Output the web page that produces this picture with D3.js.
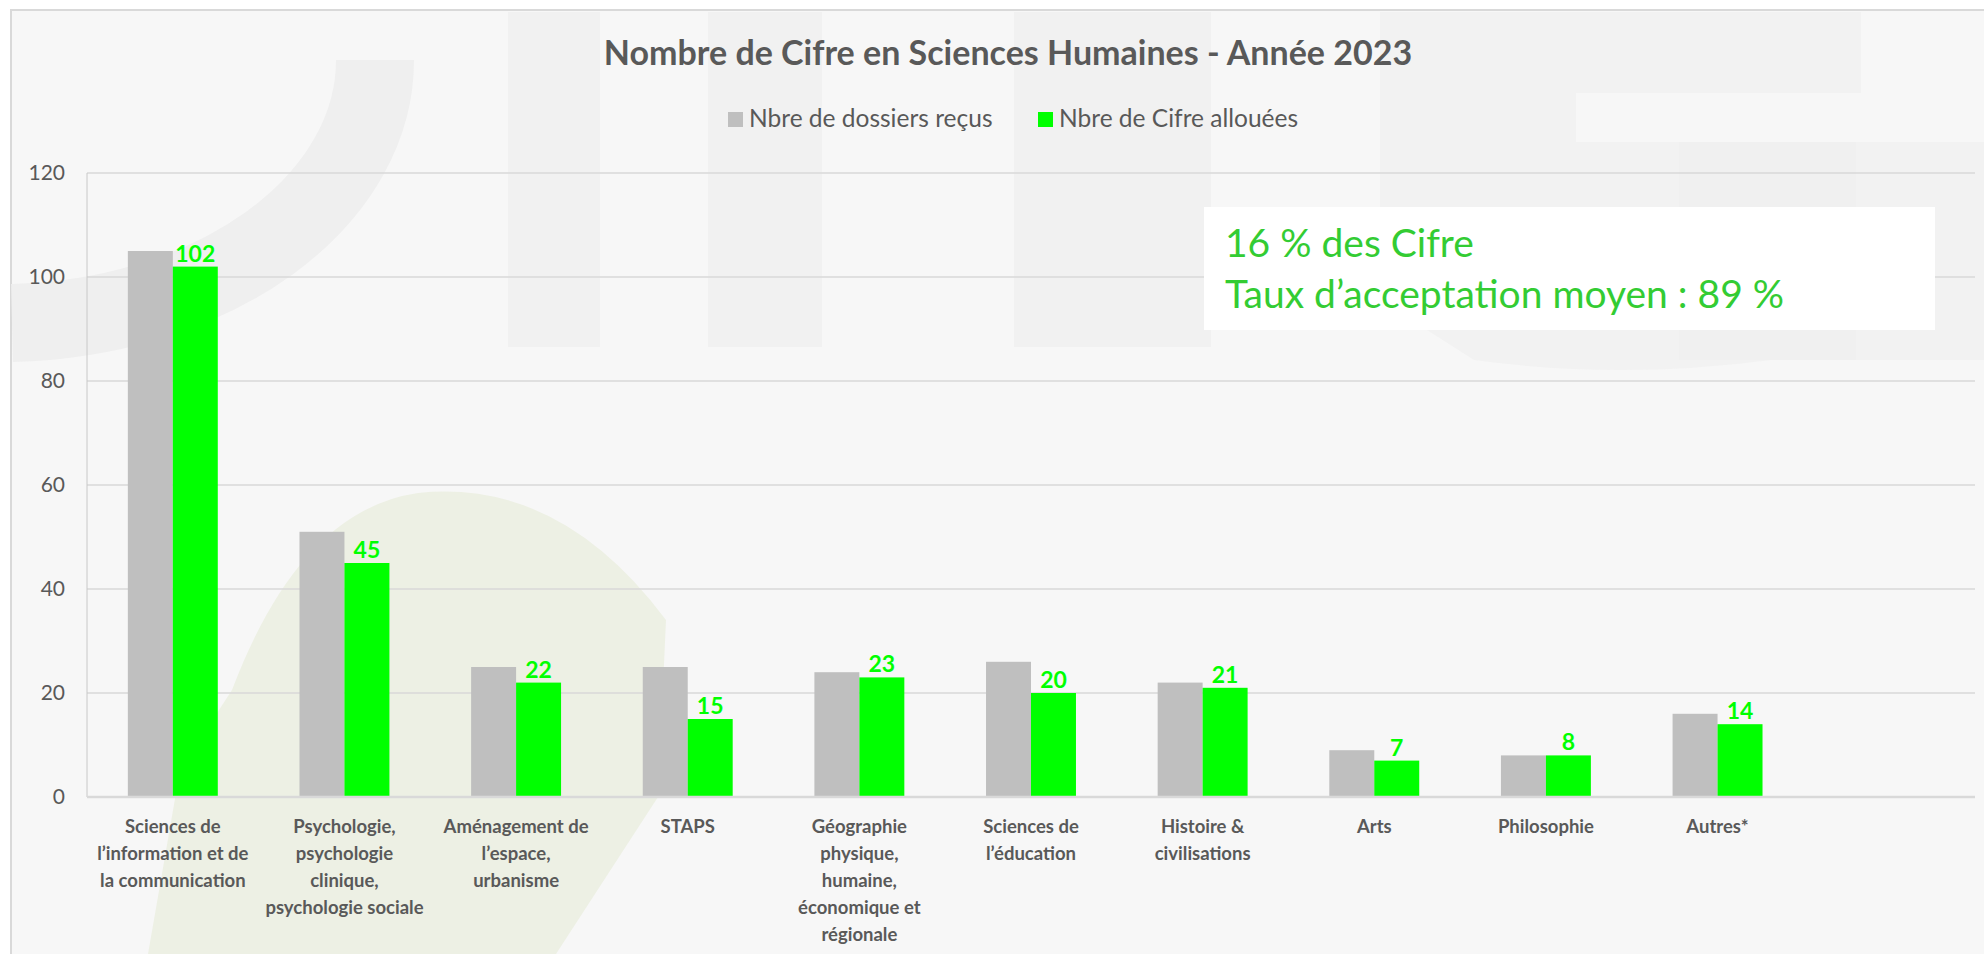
<!DOCTYPE html>
<html>
<head>
<meta charset="utf-8">
<script src="https://cdnjs.cloudflare.com/ajax/libs/d3/7.8.5/d3.min.js"></script>
<style>
html, body { margin: 0; padding: 0; background: #fff; }
#vis { width: 1984px; height: 954px; }
</style>
</head>
<body>
<div id="vis"></div>
<script>
var categories = [
    "Sciences de\nl’information et de\nla communication",
    "Psychologie,\npsychologie\nclinique,\npsychologie sociale",
    "Aménagement de\nl’espace,\nurbanisme",
    "STAPS",
    "Géographie\nphysique,\nhumaine,\néconomique et\nrégionale",
    "Sciences de\nl’éducation",
    "Histoire &\ncivilisations",
    "Arts",
    "Philosophie",
    "Autres*"
];
var dossiersRecus = [105, 51, 25, 25, 24, 26, 22, 9, 8, 16];
var cifreAllouees = [102, 45, 22, 15, 23, 20, 21, 7, 8, 14];
var yTicks = [0, 20, 40, 60, 80, 100, 120];
var seriesNames = ["Nbre de dossiers reçus", "Nbre de Cifre allouées"];
var seriesColors = ["#bfbfbf", "#00ff00"];
var chartTitle = "Nombre de Cifre en Sciences Humaines - Année 2023";
var noteLines = ["16 % des Cifre", "Taux d’acceptation moyen : 89 %"];

var width = document.getElementById('vis').clientWidth;
var height = document.getElementById('vis').clientHeight;

var margin = {
    top: 173,
    bottom: 157,
    left: 87,
    right: 9
}

var root = d3.select('#vis')
    .append('svg')
    .attr('width', width)
    .attr('height', height)
    .style('font-family', 'Lato, "Open Sans", sans-serif');

// chart area + faint logo watermark
root.append('rect').attr('x', 11).attr('y', 10).attr('width', width).attr('height', height)
    .style('fill', '#f7f7f7').style('stroke', '#d9d9d9').style('stroke-width', 2);

var wm = root.append('g');
wm.append('path').attr('d', 'M148,954 L180,770 L232,690 Q300,510 418,493 Q560,478 666,620 L658,797 L556,954 Z')
    .style('fill', '#edf0e4');
wm.append('path').attr('d', 'M375,60 A375 263 0 0 1 12 323')
    .style('fill', 'none').style('stroke', '#efefef').style('stroke-width', 78);
[[508, 92], [708, 114], [1014, 197]].forEach(function(b) {
    wm.append('rect').attr('x', b[0]).attr('y', 12).attr('width', b[1]).attr('height', 335)
        .style('fill', '#f1f1f1');
});
// the big "G" on the right
wm.append('path')
    .attr('d', 'M1380,12 L1861,12 L1861,93 L1576,93 L1576,142 L1984,142 L1984,360 L1771,360 Q1620,380 1474,360 L1380,300 Z')
    .style('fill', '#f2f2f2');
wm.append('rect').attr('x', 1679).attr('y', 142).attr('width', 177).attr('height', 218)
    .style('fill', '#f0f0f0');

var svg = root.append('g')
    .attr('transform', 'translate(' + margin.left + ',' + margin.top + ')');

width = width - margin.left - margin.right;
height = height - margin.top - margin.bottom;

// Excel keeps one empty slot on the right end of the category axis
var x_scale = d3.scaleBand()
    .domain(categories.concat(['']))
    .range([0, width])
    .paddingInner(0.476)
    .paddingOuter(0.238);

var x_inner = d3.scaleBand()
    .domain([0, 1])
    .range([0, x_scale.bandwidth()]);

var y_scale = d3.scaleLinear()
    .domain([0, 120])
    .range([height, 0]);

// gridlines
svg.append('g')
    .selectAll('line')
    .data(yTicks.slice(1))
    .enter()
    .append('line')
    .attr('x1', 0)
    .attr('x2', width)
    .attr('y1', function(d) { return y_scale(d); })
    .attr('y2', function(d) { return y_scale(d); })
    .style('stroke', '#d9d9d9')
    .style('stroke-width', 1.5);

svg.append('line').attr('x1', 0).attr('x2', 0).attr('y1', 0).attr('y2', height)
    .style('stroke', '#c8c8c8').style('stroke-width', 1);

var y_axis = d3.axisLeft(y_scale).tickValues(yTicks).tickSize(0).tickPadding(22);
svg.append('g')
    .attr('class', 'y axis')
    .call(y_axis)
    .call(function(g) { g.select('.domain').remove(); })
    .selectAll('text')
    .style('font-family', 'Lato, sans-serif')
    .style('font-size', '21px')
    .style('fill', '#595959');

// bars
var rows = categories.map(function(c, i) {
    return { cat: c, values: [dossiersRecus[i], cifreAllouees[i]] };
});

var groups = svg.selectAll('.grp')
    .data(rows)
    .enter()
    .append('g')
    .attr('class', 'grp')
    .attr('transform', function(d) { return 'translate(' + x_scale(d.cat) + ',0)'; });

groups.selectAll('rect')
    .data(function(d) { return d.values; })
    .enter()
    .append('rect')
    .attr('x', function(d, i) { return x_inner(i); })
    .attr('width', x_inner.bandwidth())
    .attr('y', function(d) { return y_scale(d); })
    .attr('height', function(d) { return height - y_scale(d); })
    .style('fill', function(d, i) { return seriesColors[i]; });

groups.append('text')
    .attr('class', 'label')
    .attr('x', function(d) { return x_inner(1) + x_inner.bandwidth() / 2; })
    .attr('y', function(d) { return y_scale(d.values[1]) - 5; })
    .attr('text-anchor', 'middle')
    .style('font-size', '23px')
    .style('font-weight', 'bold')
    .style('fill', '#00ff00')
    .text(function(d) { return d.values[1]; });

// x axis line + wrapped labels
svg.append('line').attr('x1', 0).attr('x2', width).attr('y1', height).attr('y2', height)
    .style('stroke', '#d9d9d9').style('stroke-width', 2.5);

var x_axis = d3.axisBottom(x_scale).tickSize(0).tickFormat('');
svg.append('g')
    .attr('class', 'x axis')
    .attr('transform', 'translate(0,' + height + ')')
    .call(x_axis)
    .call(function(g) { g.select('.domain').remove(); });

svg.select('.x.axis').selectAll('.tick')
    .each(function(d) {
        var t = d3.select(this).append('text')
            .attr('text-anchor', 'middle')
            .style('font-family', 'Lato, sans-serif')
            .style('font-size', '18.5px')
            .style('font-weight', 'bold')
            .style('fill', '#595959');
        d.split('\n').forEach(function(line, k) {
            t.append('tspan').attr('x', 0).attr('y', 36 + k * 27).text(line);
        });
    });

// title + legend
root.append('text').text(chartTitle)
    .attr('x', 1008).attr('y', 65)
    .attr('text-anchor', 'middle')
    .style('font-size', '34px').style('font-weight', 'bold').style('fill', '#595959');

var legend = root.append('g').attr('transform', 'translate(728,112)');
var lx = [0, 310];
seriesNames.forEach(function(name, i) {
    var item = legend.append('g').attr('transform', 'translate(' + lx[i] + ',0)');
    item.append('rect').attr('width', 15).attr('height', 15).style('fill', seriesColors[i]);
    item.append('text').text(name).attr('x', 21).attr('y', 15)
        .style('font-size', '24.5px').style('fill', '#595959');
});

// annotation box
var note = root.append('g').attr('transform', 'translate(1204,207)');
note.append('rect').attr('width', 731).attr('height', 123).style('fill', '#ffffff');
noteLines.forEach(function(line, i) {
    note.append('text').text(line)
        .attr('x', 21).attr('y', 50 + i * 51)
        .style('font-size', '39px').style('fill', '#33cc33');
});
</script>
</body>
</html>
